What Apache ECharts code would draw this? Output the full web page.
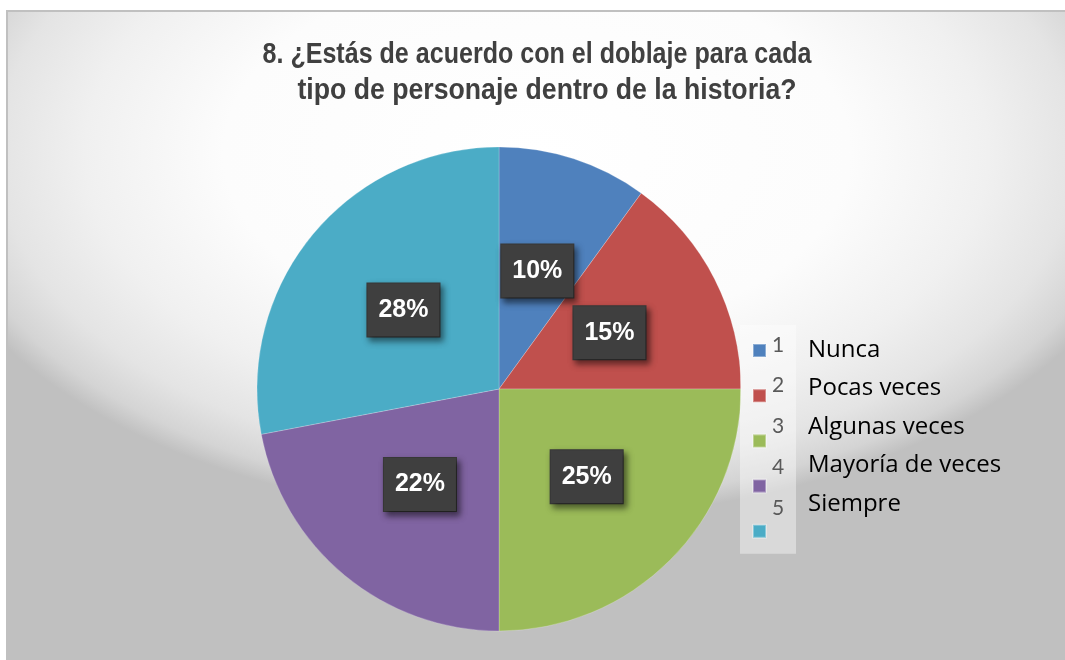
<!DOCTYPE html>
<html>
<head>
<meta charset="utf-8">
<script src="https://cdn.jsdelivr.net/npm/echarts@6/dist/echarts.min.js"></script>
<style>
  html, body { margin: 0; padding: 0; background: #ffffff; }
  #bg {
    position: absolute; left: 6px; top: 10px; width: 1059px; height: 650px;
    border-top: 2px solid #c0c0c0; border-left: 2px solid #c0c0c0;
    box-sizing: border-box;
    background: radial-gradient(ellipse 627px 367px at 529px 140px,
      #ffffff 0%, #fcfcfc 50%, #f0f0f0 72%, #e4e4e4 86%, #d4d4d4 95%, #c0c0c0 100%);
  }
  #chart { position: absolute; left: 0; top: 0; width: 1065px; height: 660px; }
</style>
</head>
<body>
<div id="bg"></div>
<div id="chart"></div>
<script>
const titleLines = ['8. ¿Estás de acuerdo con el doblaje para cada', 'tipo de personaje dentro de la historia?'];
const categories = ['Nunca', 'Pocas veces', 'Algunas veces', 'Mayoría de veces', 'Siempre'];
const codes = ['1', '2', '3', '4', '5'];
const values = [10, 15, 25, 22, 28];
const colors = ['#4f81bd', '#c0504d', '#9bbb59', '#8064a2', '#4bacc6'];

const titleFont = 'bold 29px "Liberation Sans", Arial, sans-serif';
const measureCtx = document.createElement('canvas').getContext('2d');
measureCtx.font = titleFont;
const titleScale1 = 549 / measureCtx.measureText(titleLines[0]).width;
const titleScale2 = 499 / measureCtx.measureText(titleLines[1]).width;

const chart = echarts.init(document.getElementById('chart'), null, { renderer: 'canvas' });

const data = categories.map((c, i) => ({ name: c, value: values[i], itemStyle: { color: colors[i] } }));

function titleText(line, x, y, sx) {
  return {
    type: 'text',
    x: x, y: y,
    scaleX: sx,
    silent: true,
    style: {
      text: line,
      font: titleFont,
      fill: '#404040',
      align: 'center', verticalAlign: 'middle',
      textAlign: 'center', textVerticalAlign: 'middle'
    }
  };
}

chart.setOption({
  backgroundColor: 'transparent',
  animation: false,
  graphic: [
    titleText(titleLines[0], 537, 55, titleScale1),
    titleText(titleLines[1], 547, 91, titleScale2)
  ],
  legend: [
    {
      orient: 'vertical',
      left: 740,
      top: 325,
      padding: [18, 25, 15, 12],
      backgroundColor: 'rgba(255,255,255,0.4)',
      icon: 'rect',
      itemWidth: 13,
      itemHeight: 13,
      itemGap: 30.2,
      selectedMode: false,
      data: categories,
      formatter: () => '',
      textStyle: { fontSize: 1, lineHeight: 1 }
    },
    {
      orient: 'vertical',
      left: 767,
      top: 334.5,
      padding: 0,
      icon: 'none',
      itemWidth: 0,
      itemHeight: 20,
      itemGap: 19.7,
      selectedMode: false,
      data: categories,
      formatter: (name) => codes[categories.indexOf(name)],
      textStyle: { fontFamily: 'Lato, "Open Sans", sans-serif', fontSize: 21, lineHeight: 20, color: '#595959' }
    },
    {
      orient: 'vertical',
      left: 803,
      top: 338,
      padding: 0,
      icon: 'none',
      itemWidth: 0,
      itemHeight: 20,
      itemGap: 14.5,
      selectedMode: false,
      data: categories,
      textStyle: { fontFamily: '"Open Sans", Lato, sans-serif', fontSize: 24, lineHeight: 20, color: '#000000' }
    }
  ],
  series: [{
    type: 'pie',
    center: [499, 389],
    radius: [0, 242],
    startAngle: 90,
    clockwise: true,
    data: data,
    itemStyle: { borderColor: 'rgba(255,255,255,0.35)', borderWidth: 0.6 },
    label: {
      show: true,
      position: 'inside',
      formatter: (p) => p.value + '%',
      color: '#ffffff',
      fontFamily: '"Liberation Sans", Arial, sans-serif',
      fontWeight: 'bold',
      fontSize: 25,
      lineHeight: 25,
      backgroundColor: '#3f3f3f',
      borderColor: '#3a3a3a',
      borderWidth: 1,
      padding: [14, 11, 14, 11],
      shadowColor: 'rgba(0,0,0,0.5)',
      shadowBlur: 6,
      shadowOffsetX: 3,
      shadowOffsetY: 4
    },
    labelLine: { show: false },
    emphasis: { disabled: true }
  }]
});
</script>
</body>
</html>
